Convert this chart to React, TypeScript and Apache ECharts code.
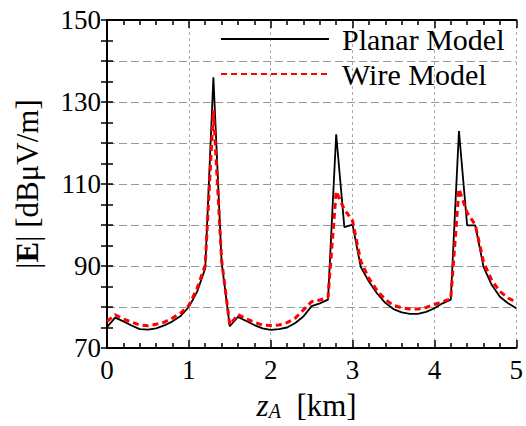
import React, { useEffect, useRef } from "react";
import * as echarts from "echarts";

const zA = [
  0.0, 0.1, 0.2, 0.3, 0.4, 0.5, 0.6, 0.7, 0.8, 0.9,
  1.0, 1.1, 1.2, 1.3, 1.4, 1.5, 1.6, 1.7, 1.8, 1.9,
  2.0, 2.1, 2.2, 2.3, 2.4, 2.5, 2.6, 2.7, 2.8, 2.9,
  3.0, 3.1, 3.2, 3.3, 3.4, 3.5, 3.6, 3.7, 3.8, 3.9,
  4.0, 4.1, 4.2, 4.3, 4.4, 4.5, 4.6, 4.7, 4.8, 4.9, 5.0,
];

const planar = [
  75.1, 77.4, 76.5, 75.5, 74.6, 74.5, 74.8, 75.5, 76.5, 77.8,
  80.0, 83.7, 89.4, 136.0, 91.0, 75.3, 77.6, 76.6, 75.6, 74.8,
  74.4, 74.6, 75.0, 76.1, 77.7, 80.2, 80.9, 81.8, 122.1, 99.5,
  100.1, 89.8, 86.2, 83.3, 81.0, 79.5, 78.7, 78.3, 78.3, 78.8,
  79.7, 80.9, 81.8, 122.9, 99.9, 99.9, 89.8, 85.4, 82.5, 80.9, 79.7,
];

const wire = [
  76.5, 78.1, 77.1, 76.3, 75.6, 75.4, 75.8, 76.3, 77.3, 78.5,
  80.4, 84.5, 90.2, 128.0, 91.5, 75.6, 78.2, 77.1, 76.3, 75.6,
  75.5, 75.6, 76.2, 77.3, 79.3, 81.3, 81.7, 82.3, 108.2, 103.8,
  101.0, 91.2, 87.0, 84.0, 81.8, 80.4, 79.8, 79.5, 79.5, 79.9,
  80.6, 81.3, 82.0, 108.8, 103.0, 100.0, 91.0, 86.5, 83.8, 82.2, 81.2,
];

const seriesNames = ["Planar Model", "Wire Model"];
const yLabelTicks = [70, 90, 110, 130, 150];

const FONT = "Liberation Serif";

export default function App() {
  const ref = useRef<HTMLDivElement>(null);
  useEffect(() => {
    if (!ref.current) return;
    const chart = echarts.init(ref.current, null, { renderer: "svg" });
    const axisLine = { show: true, lineStyle: { color: "#000", width: 2 } };
    const option: any = {
      animation: false,
      backgroundColor: "#fff",
      textStyle: { fontFamily: FONT },
      grid: { left: 107, top: 20, right: 9, bottom: 76, containLabel: false },
      legend: {
        orient: "vertical",
        left: 215,
        top: 19,
        itemWidth: 108,
        itemHeight: 14,
        itemGap: 5,
        data: seriesNames,
        itemStyle: { opacity: 0 },
        textStyle: {
          fontFamily: FONT,
          fontSize: 30,
          lineHeight: 30,
          color: "#000",
          padding: [0, 0, 0, 8],
        },
      },
      xAxis: [
        {
          type: "value",
          min: 0,
          max: 5,
          interval: 1,
          axisLine,
          axisTick: { show: true, inside: true, length: 8, lineStyle: { color: "#000", width: 1.5 } },
          minorTick: { show: true, splitNumber: 5, length: 5, lineStyle: { color: "#000", width: 1.5 } },
          splitLine: { show: true, lineStyle: { color: "#aaa", type: [3, 3], width: 1 } },
          axisLabel: { fontFamily: FONT, fontSize: 27, color: "#000", margin: 8 },
          name: "{i|z}{s|A}{n|  [km]}",
          nameLocation: "middle",
          nameGap: 39,
          nameTextStyle: {
            padding: [0, 10, 0, 0],
            rich: {
              i: { fontFamily: FONT, fontSize: 31, fontStyle: "italic", color: "#000", verticalAlign: "bottom", lineHeight: 34 },
              s: { fontFamily: FONT, fontSize: 20, fontStyle: "italic", color: "#000", verticalAlign: "bottom", lineHeight: 24 },
              n: { fontFamily: FONT, fontSize: 31, color: "#000", verticalAlign: "bottom", lineHeight: 34 },
            },
          },
        },
        {
          type: "value",
          position: "top",
          min: 0,
          max: 5,
          interval: 1,
          axisLine,
          axisTick: { show: true, inside: true, length: 8, lineStyle: { color: "#000", width: 1.5 } },
          minorTick: { show: true, splitNumber: 5, length: 5, lineStyle: { color: "#000", width: 1.5 } },
          splitLine: { show: false },
          axisLabel: { show: false },
        },
      ],
      yAxis: [
        {
          type: "value",
          min: 70,
          max: 150,
          interval: 10,
          axisLine,
          axisTick: { show: true, inside: true, length: 6, lineStyle: { color: "#000", width: 1.5 } },
          minorTick: { show: true, splitNumber: 2, length: 6, lineStyle: { color: "#000", width: 1.5 } },
          splitLine: { show: true, lineStyle: { color: "#999", type: [8, 4], width: 1 } },
          axisLabel: {
            fontFamily: FONT,
            fontSize: 27,
            color: "#000",
            margin: 6,
            formatter: (v: number) => (yLabelTicks.includes(v) ? String(v) : ""),
          },
          name: "{n||}{b|E}{n|| [dBμV/m]}",
          nameLocation: "middle",
          nameGap: 64,
          nameRotate: 90,
          nameTextStyle: {
            rich: {
              n: { fontFamily: FONT, fontSize: 31, color: "#000" },
              b: { fontFamily: FONT, fontSize: 31, fontWeight: "bold", color: "#000" },
            },
          },
        },
        {
          type: "value",
          position: "right",
          min: 70,
          max: 150,
          interval: 10,
          axisLine,
          axisTick: { show: true, inside: true, length: 6, lineStyle: { color: "#000", width: 1.5 } },
          minorTick: { show: true, splitNumber: 2, length: 6, lineStyle: { color: "#000", width: 1.5 } },
          splitLine: { show: false },
          axisLabel: { show: false },
        },
      ],
      series: [
        {
          name: seriesNames[0],
          type: "line",
          xAxisIndex: 0,
          yAxisIndex: 0,
          symbol: "none",
          data: zA.map((x, i) => [x, planar[i]]),
          lineStyle: { color: "#000", width: 1.8, type: "solid" },
          itemStyle: { color: "#000" },
          z: 3,
        },
        {
          name: seriesNames[1],
          type: "line",
          xAxisIndex: 0,
          yAxisIndex: 0,
          symbol: "none",
          data: zA.map((x, i) => [x, wire[i]]),
          lineStyle: { color: "#ff0000", width: 3, type: [6, 4] },
          itemStyle: { color: "#ff0000" },
          z: 4,
        },
      ],
    };
    chart.setOption(option);
    return () => chart.dispose();
  }, []);
  return <div ref={ref} style={{ width: 526, height: 426, position: "absolute", left: 0, top: 0 }} />;
}
